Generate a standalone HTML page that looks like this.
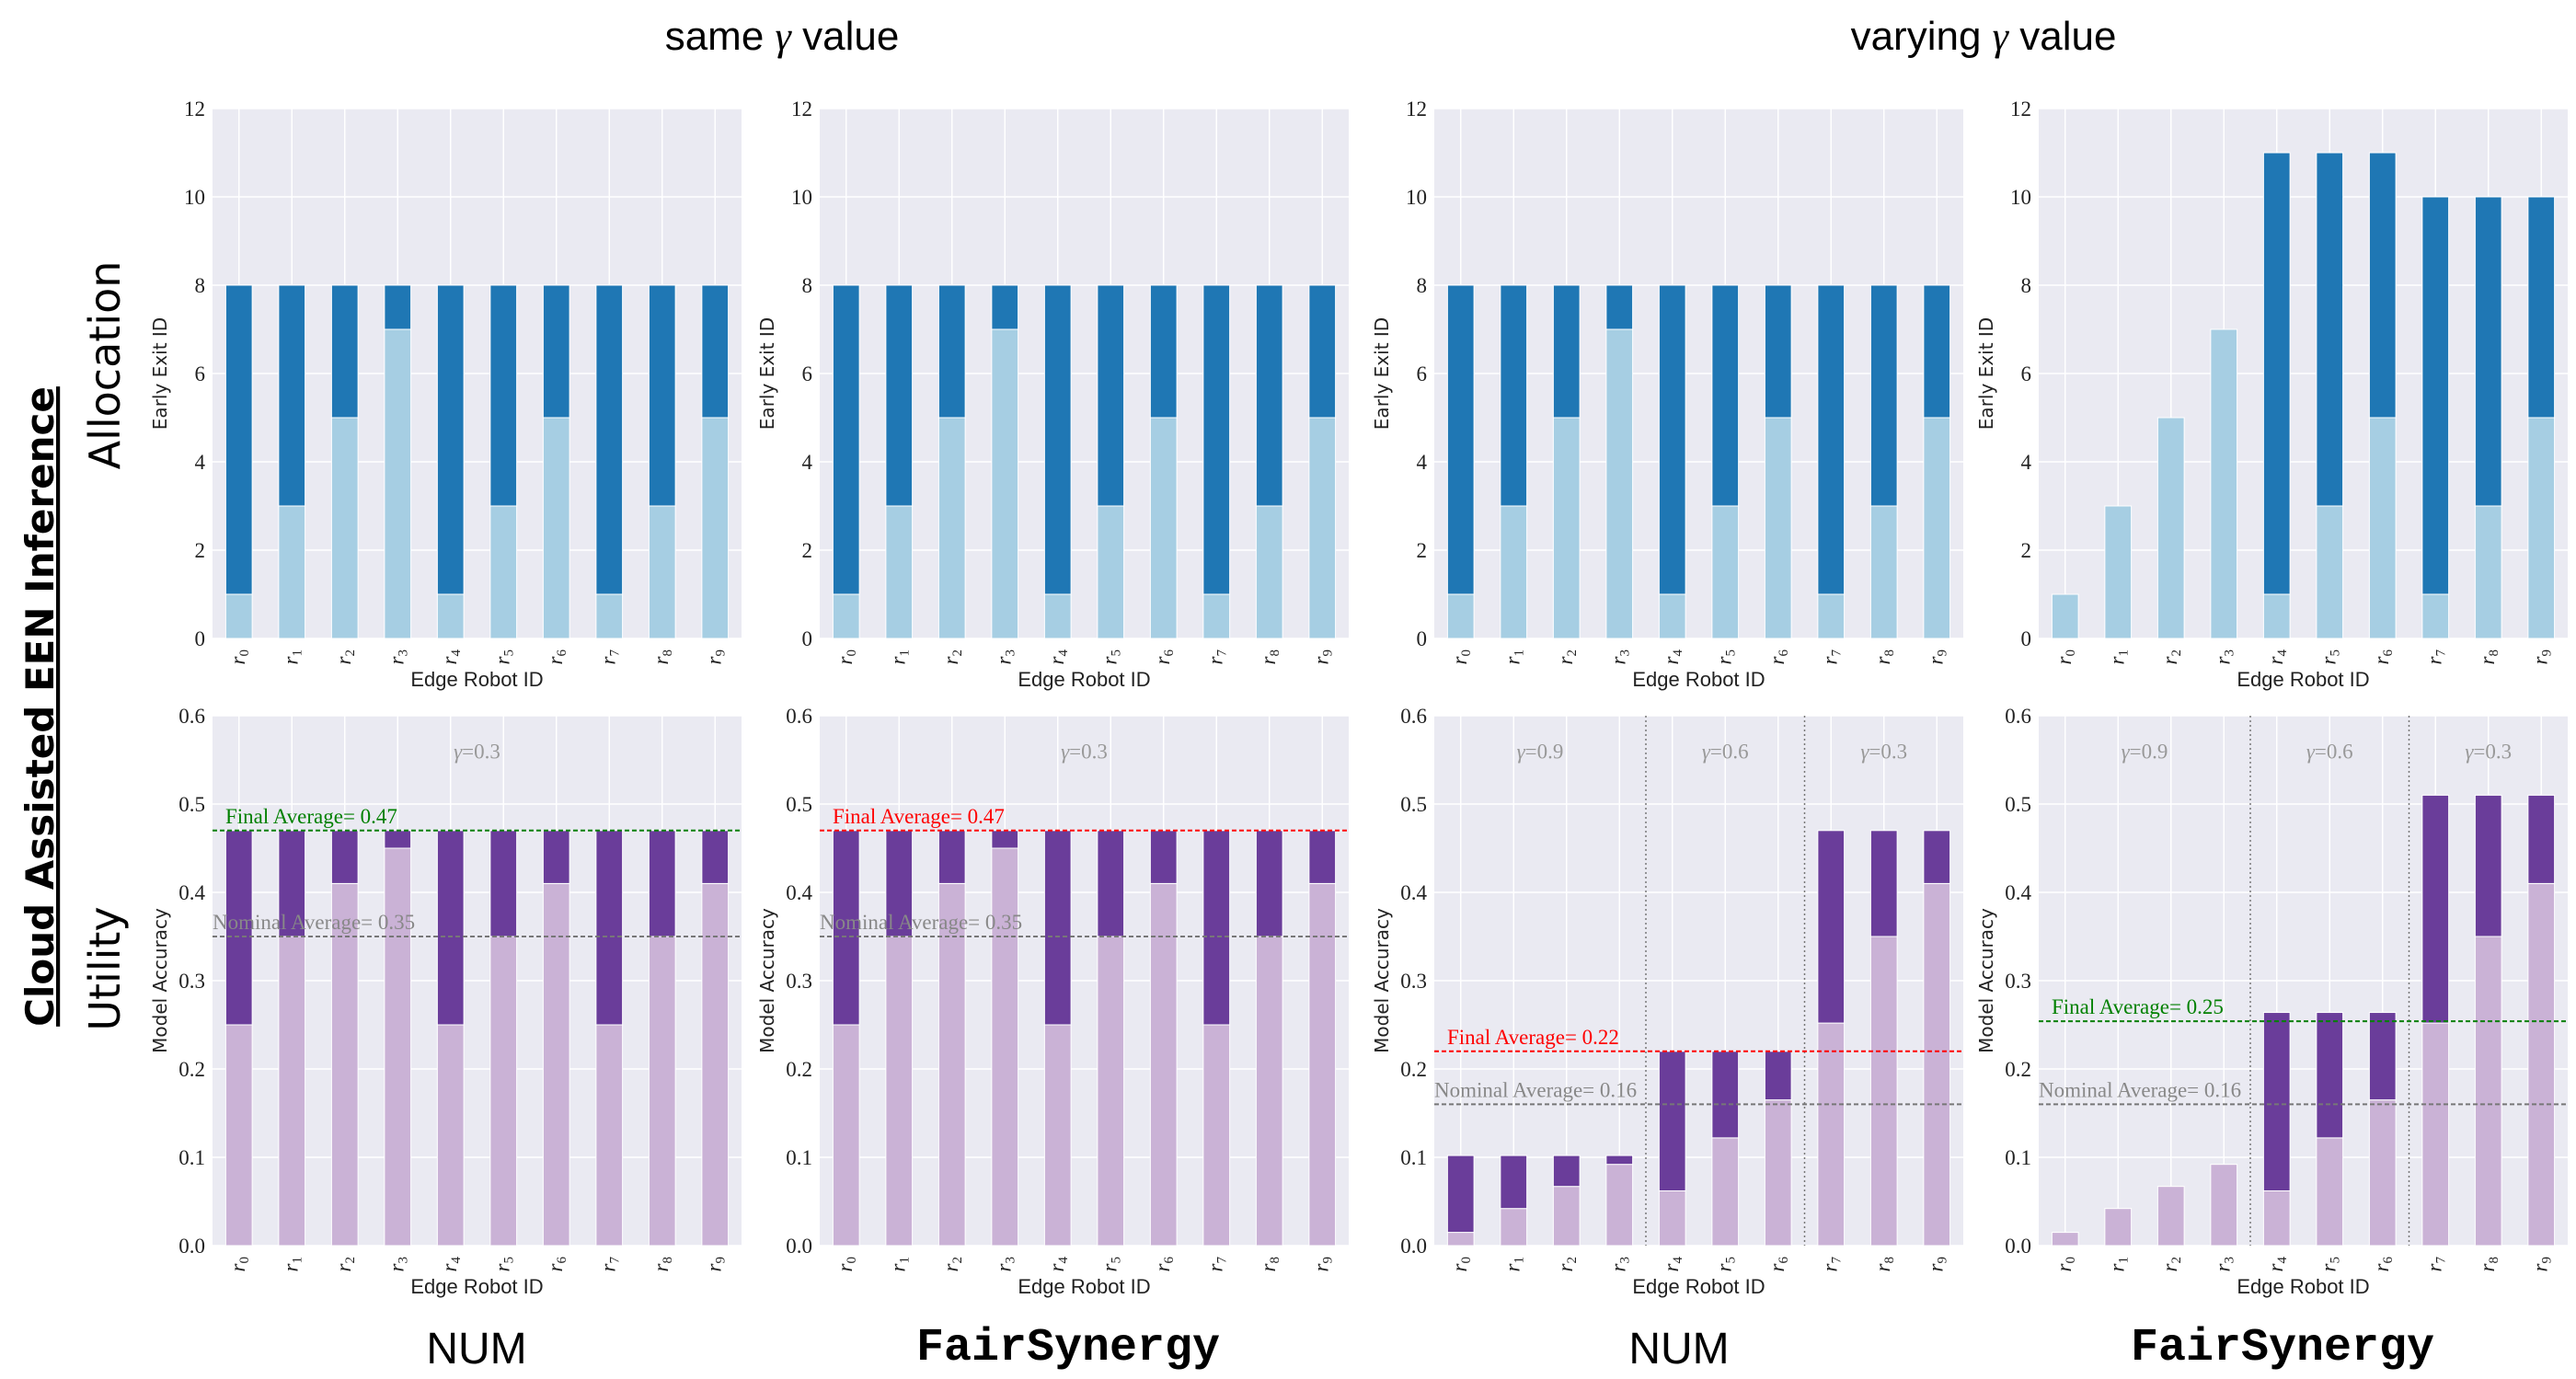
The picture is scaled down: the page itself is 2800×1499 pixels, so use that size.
<!DOCTYPE html>
<html><head><meta charset="utf-8">
<style>
html,body{margin:0;padding:0;background:#fff;}
svg{display:block;}
.tick{font-family:"Liberation Serif",serif;font-size:23px;fill:#222;}
.ax{font-family:"DejaVu Sans",sans-serif;font-size:20px;fill:#222;}
.xl{font-family:"Liberation Sans",sans-serif;font-size:22px;fill:#222;}
</style></head>
<body>
<svg id="fig" width="2800" height="1499" viewBox="0 0 2800 1499" xmlns="http://www.w3.org/2000/svg">
<text x="850" y="54" text-anchor="middle" font-family="Liberation Sans, sans-serif" font-size="44">same <tspan font-style="italic" font-family="Liberation Serif, serif">γ</tspan> value</text>
<text x="2156" y="54" text-anchor="middle" font-family="Liberation Sans, sans-serif" font-size="44">varying <tspan font-style="italic" font-family="Liberation Serif, serif">γ</tspan> value</text>
<text transform="translate(58,768) rotate(-90)" text-anchor="middle" font-family="DejaVu Sans, sans-serif" font-weight="bold" font-size="42" text-decoration="underline">Cloud Assisted EEN Inference</text>
<text transform="translate(130,397) rotate(-90)" text-anchor="middle" font-family="DejaVu Sans, sans-serif" font-size="46">Allocation</text>
<text transform="translate(130,1053) rotate(-90)" text-anchor="middle" font-family="DejaVu Sans, sans-serif" font-size="46">Utility</text>
<text x="518" y="1482" text-anchor="middle" font-family="Liberation Sans, sans-serif" font-size="48">NUM</text>
<text x="1161" y="1478" text-anchor="middle" font-family="Liberation Mono, monospace" font-weight="bold" font-size="50">FairSynergy</text>
<text x="1825" y="1482" text-anchor="middle" font-family="Liberation Sans, sans-serif" font-size="48">NUM</text>
<text x="2481" y="1478" text-anchor="middle" font-family="Liberation Mono, monospace" font-weight="bold" font-size="50">FairSynergy</text>
</svg>
<script>
const robots = ['0','1','2','3','4','5','6','7','8','9'];
const allocLight = [1,3,5,7,1,3,5,1,3,5];
const allocTotalSame = [8,8,8,8,8,8,8,8,8,8];
const allocTotalFair = [1,3,5,7,11,11,11,10,10,10];
const allocTicks = [0,2,4,6,8,10,12];
const utilLightSame = [0.25,0.35,0.41,0.45,0.25,0.35,0.41,0.25,0.35,0.41];
const utilTotalSame = [0.47,0.47,0.47,0.47,0.47,0.47,0.47,0.47,0.47,0.47];
const utilLightVar = [0.015,0.042,0.067,0.092,0.062,0.122,0.165,0.252,0.35,0.41];
const utilTotalNumVar = [0.102,0.102,0.102,0.102,0.22,0.22,0.22,0.47,0.47,0.47];
const utilTotalFairVar = [0.015,0.042,0.067,0.092,0.264,0.264,0.264,0.51,0.51,0.51];
const utilTicks = ['0.0','0.1','0.2','0.3','0.4','0.5','0.6'];
const finalAvg = [0.47,0.47,0.22,0.254];
const finalLabels = ['0.47','0.47','0.22','0.25'];
const nominalAvg = [0.35,0.35,0.16,0.16];
const nominalLabels = ['0.35','0.35','0.16','0.16'];
const gammaSame = ['0.3'];
const gammaVar = ['0.9','0.6','0.3'];
const gammaPosSame = [4.5];
const gammaPosVar = [1.5,5,8];
const groupSplits = [3.5,6.5];

const NS='http://www.w3.org/2000/svg';
const svg=document.getElementById('fig');
function mk(tag,attrs,parent){const e=document.createElementNS(NS,tag);for(const k in attrs)e.setAttribute(k,attrs[k]);(parent||svg).appendChild(e);return e;}

const lefts=[231,891,1559,2216], W=575;
const rows=[{top:118,bot:694},{top:778,bot:1354}];

function panel(idx,row,ymax,ticks,light,total,cLight,cDark,ylab,opts){
  const L=lefts[idx], T=rows[row].top, B=rows[row].bot;
  const g=mk('g',{});
  
  
  const x=i=>L+(i+0.5)*W/10;
  const y=v=>B-(v/ymax)*(B-T);
  const bg=mk('rect',{x:L,y:T,width:W,height:B-T,fill:'#eaeaf2'},g);
  
  
  ticks.forEach(t=>{const v=parseFloat(t);
    mk('line',{x1:L,x2:L+W,y1:y(v),y2:y(v),stroke:'#fff','stroke-width':1.5},g);
    const tl=mk('text',{x:L-8,y:y(v)+8,'text-anchor':'end',class:'tick'},g);
    
    
    tl.textContent=t;});
  robots.forEach((r,i)=>{mk('line',{x1:x(i),x2:x(i),y1:T,y2:B,stroke:'#fff','stroke-width':1.5},g);
    const tx=mk('text',{transform:`translate(${x(i)+6},${B+12}) rotate(-90)`,'text-anchor':'end',class:'tick','font-style':'italic','font-size':'24'},g);
    
    
    tx.innerHTML='r<tspan font-size="15" font-style="normal" dy="4">'+r+'</tspan>';});
  const bw=W/10*0.5;
  robots.forEach((r,i)=>{
    const lb=mk('rect',{x:x(i)-bw/2,y:y(light[i]),width:bw,height:B-y(light[i]),fill:cLight,stroke:'#fff','stroke-width':1},g);
    
    
    if(total[i]>light[i]){
      const db=mk('rect',{x:x(i)-bw/2,y:y(total[i]),width:bw,height:y(light[i])-y(total[i]),fill:cDark,stroke:'#fff','stroke-width':1},g);
      
      
    }
  });
  const yl=mk('text',{transform:`translate(${L-50},${(T+B)/2}) rotate(-90)`,'text-anchor':'middle',class:'ax'},g);
  
  
  yl.textContent=ylab;
  const xl=mk('text',{x:L+W/2,y:B+52,'text-anchor':'middle',class:'xl'},g);
  
  
  xl.textContent='Edge Robot ID';
  if(opts){
    const xs=v=>L+(v+0.5)*W/10;
    (opts.splits||[]).forEach(s=>{const sl=mk('line',{x1:xs(s),x2:xs(s),y1:T,y2:B,stroke:'#777','stroke-width':1.5,'stroke-dasharray':'2,3'},g);
      
      });
    opts.gammas.forEach((gm,k)=>{const gt=mk('text',{x:xs(opts.gpos[k]),y:y(0.56)+8,'text-anchor':'middle',class:'tick',style:'fill:#999'},g);
      
      
      gt.innerHTML='<tspan font-style="italic">γ</tspan>='+gm;});
    const nl=mk('line',{x1:L,x2:L+W,y1:y(opts.nom),y2:y(opts.nom),stroke:'#777','stroke-width':2,'stroke-dasharray':'5,3'},g);
    
    
    const nt=mk('text',{x:L,y:y(opts.nom)-8,class:'tick','font-size':'21',style:'fill:#888'},g);
    
    
    nt.textContent='Nominal Average= '+opts.nomL;
    const fl=mk('line',{x1:L,x2:L+W,y1:y(opts.fin),y2:y(opts.fin),stroke:opts.fc,'stroke-width':2,'stroke-dasharray':'5,3'},g);
    
    
    const ft=mk('text',{x:L+14,y:y(opts.fin)-8,class:'tick','font-size':'21',style:'fill:'+opts.fc},g);
    
    
    ft.textContent='Final Average= '+opts.finL;
  }
}
const bl='#a6cee3', bd='#1f77b4', pl='#cab2d6', pd='#6a3d9a';
panel(0,0,12,allocTicks.map(String),allocLight,allocTotalSame,bl,bd,'Early Exit ID');
panel(1,0,12,allocTicks.map(String),allocLight,allocTotalSame,bl,bd,'Early Exit ID');
panel(2,0,12,allocTicks.map(String),allocLight,allocTotalSame,bl,bd,'Early Exit ID');
panel(3,0,12,allocTicks.map(String),allocLight,allocTotalFair,bl,bd,'Early Exit ID');
panel(0,1,0.6,utilTicks,utilLightSame,utilTotalSame,pl,pd,'Model Accuracy',{gammas:gammaSame,gpos:gammaPosSame,nom:nominalAvg[0],nomL:nominalLabels[0],fin:finalAvg[0],finL:finalLabels[0],fc:'#008000'});
panel(1,1,0.6,utilTicks,utilLightSame,utilTotalSame,pl,pd,'Model Accuracy',{gammas:gammaSame,gpos:gammaPosSame,nom:nominalAvg[1],nomL:nominalLabels[1],fin:finalAvg[1],finL:finalLabels[1],fc:'#ff0000'});
panel(2,1,0.6,utilTicks,utilLightVar,utilTotalNumVar,pl,pd,'Model Accuracy',{splits:groupSplits,gammas:gammaVar,gpos:gammaPosVar,nom:nominalAvg[2],nomL:nominalLabels[2],fin:finalAvg[2],finL:finalLabels[2],fc:'#ff0000'});
panel(3,1,0.6,utilTicks,utilLightVar,utilTotalFairVar,pl,pd,'Model Accuracy',{splits:groupSplits,gammas:gammaVar,gpos:gammaPosVar,nom:nominalAvg[3],nomL:nominalLabels[3],fin:finalAvg[3],finL:finalLabels[3],fc:'#008000'});
</script>
</body></html>
